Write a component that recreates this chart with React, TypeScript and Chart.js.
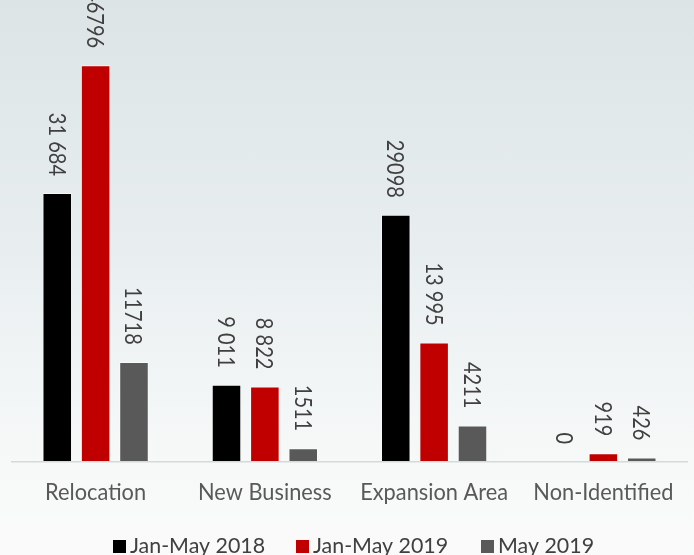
import React, { useEffect, useRef } from "react";
import { Chart, registerables } from "chart.js";

Chart.register(...registerables);

const categories = ["Relocation", "New Business", "Expansion Area", "Non-Identified"];
const seriesNames = ["Jan-May 2018", "Jan-May 2019", "May 2019"];
const values2018 = [31684, 9011, 29098, 0];
const values2019 = [46796, 8822, 13995, 919];
const valuesMay2019 = [11718, 1511, 4211, 426];
const labels2018 = ["31 684", "9 011", "29098", "0"];
const labels2019 = ["46796", "8 822", "13 995", "919"];
const labelsMay2019 = ["11718", "1511", "4211", "426"];
const seriesColors = ["#000000", "#c00000", "#595959"];

const FONT = 'Lato, "Open Sans", sans-serif';
const valueLabels = [labels2018, labels2019, labelsMay2019];

function drawText(ctx: CanvasRenderingContext2D, text: string, x: number, y: number, size: number, sy: number, align: CanvasTextAlign, color: string, rot = 0) {
  ctx.save();
  ctx.translate(x, y);
  if (rot) ctx.rotate(rot);
  ctx.scale(1, sy);
  ctx.font = `${size}px ${FONT}`;
  ctx.fillStyle = color;
  ctx.textAlign = align;
  ctx.textBaseline = "alphabetic";
  ctx.fillText(text, 0, 0);
  ctx.restore();
}

const textPlugin = {
  id: "customText",
  beforeDatasetsDraw(chart: any) {
    const ctx = chart.ctx as CanvasRenderingContext2D;
    const a = chart.chartArea;
    ctx.save();
    ctx.strokeStyle = "#d6d9da";
    ctx.lineWidth = 1.5;
    ctx.beginPath();
    ctx.moveTo(a.left, a.bottom + 0.75);
    ctx.lineTo(a.right, a.bottom + 0.75);
    ctx.stroke();
    ctx.restore();
  },
  afterDatasetsDraw(chart: any) {
    const ctx = chart.ctx as CanvasRenderingContext2D;
    const a = chart.chartArea;
    const valSize = 20;
    const valSy = 1.2;
    chart.data.datasets.forEach((_: any, di: number) => {
      const meta = chart.getDatasetMeta(di);
      meta.data.forEach((el: any, i: number) => {
        const txt = valueLabels[di][i];
        const capH = 0.717 * valSize * valSy;
        ctx.save();
        ctx.translate(el.x, el.y - 17);
        ctx.rotate(Math.PI / 2);
        ctx.scale(1, valSy);
        ctx.font = `${valSize}px ${FONT}`;
        ctx.fillStyle = "#404040";
        ctx.textAlign = "right";
        ctx.textBaseline = "alphabetic";
        ctx.fillText(txt, 0, capH / 2 / valSy);
        ctx.restore();
      });
    });
    const xs = chart.scales.x;
    categories.forEach((c, i) => {
      drawText(ctx, c, xs.getPixelForValue(i), a.bottom + 39, 21.8, 1.03, "center", "#595959");
    });
    const legendX = [113, 296, 481];
    seriesNames.forEach((n, i) => {
      ctx.save();
      ctx.fillStyle = seriesColors[i];
      ctx.fillRect(legendX[i], 540, 13, 13);
      ctx.restore();
      drawText(ctx, n, legendX[i] + 17, 553, 21.4, 1.03, "left", "#404040");
    });
  },
};

export default function App() {
  const ref = useRef<HTMLCanvasElement>(null);
  useEffect(() => {
    if (!ref.current) return;
    const datasets = [values2018, values2019, valuesMay2019].map((vals, i) => ({
      label: seriesNames[i],
      data: vals,
      backgroundColor: seriesColors[i],
      borderColor: "rgba(255,255,255,0.55)",
      borderWidth: 1,
      categoryPercentage: 0.68,
      barPercentage: 0.77,
    }));
    const chart = new Chart(ref.current, {
      type: "bar",
      data: { labels: categories, datasets },
      options: {
        animation: false,
        responsive: false,
        devicePixelRatio: 1,
        layout: { padding: { left: 11, right: 6, top: 0, bottom: 94 } },
        plugins: { legend: { display: false }, tooltip: { enabled: false }, title: { display: false } },
        scales: {
          x: { display: false },
          y: { display: false, min: 0, max: 54500 },
        },
      },
      plugins: [textPlugin],
    });
    return () => chart.destroy();
  }, []);
  return (
    <div
      style={{
        position: "fixed",
        left: 0,
        top: 0,
        width: 694,
        height: 555,
        background: "linear-gradient(180deg, #dce4e6 0%, #e8eef0 45%, #f6f8f8 80%, #fafafa 100%)",
      }}
    >
      <canvas ref={ref} width={694} height={555} style={{ display: "block", width: 694, height: 555 }} />
    </div>
  );
}
